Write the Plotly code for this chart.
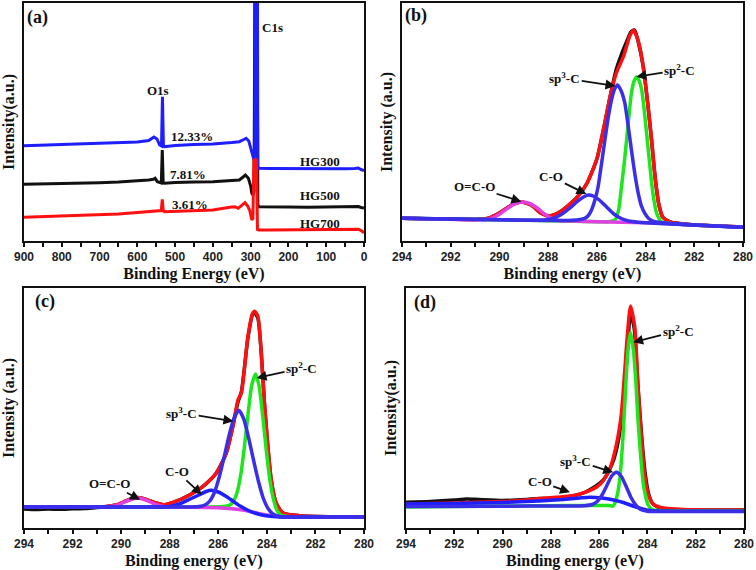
import plotly.graph_objects as go

# ---------------- Panel (a): survey spectra ----------------
a_hg300_x = [900, 850, 800, 750, 700, 650, 600, 570, 556, 548, 541, 536, 533.5, 531, 528.5, 524, 500, 450, 400, 350, 330, 318, 312, 305, 299, 294, 291, 289, 287.5, 283, 281, 278, 250, 200, 150, 100, 50, 25, 15, 8, 0]
a_hg300_y = [95.3, 95.8, 96.3, 97, 97.5, 98, 99, 100.5, 104, 102, 96, 95, 144.3, 96, 94.3, 94.5, 95.5, 96.5, 97, 98.5, 99.3, 101.5, 102.7, 100, 93, 85, 81, 95, 400, 400, 74, 72.7, 72.5, 72.3, 72.3, 72.5, 72.3, 72.5, 73, 71.5, 70.5]

a_hg500_x = [900, 850, 800, 750, 700, 650, 600, 570, 558, 553, 547, 540, 536.5, 534, 531.5, 528, 500, 450, 400, 350, 330, 320, 314, 306, 300, 297, 294, 291, 288.5, 283.5, 281, 278, 250, 200, 150, 100, 50, 25, 15, 8, 0]
a_hg500_y = [56.7, 57, 57.5, 57.8, 58.3, 59, 60, 61, 61.7, 62.7, 59.3, 58, 58, 91, 58, 57.7, 58.5, 59, 59.3, 60.5, 61, 64, 66, 62.7, 55, 47.7, 46, 50, 300, 300, 36, 34.3, 34, 34, 33.8, 34, 33.8, 34, 34.5, 33.5, 33]

a_hg700_x = [900, 850, 800, 750, 700, 650, 600, 560, 547, 540, 536.5, 534, 531.5, 528, 500, 450, 400, 355, 342, 333, 322, 315, 308, 302, 297, 294, 291.5, 284.5, 282, 279, 250, 200, 150, 100, 50, 30, 15, 8, 0]
a_hg700_y = [23.7, 24.3, 25, 25.5, 26, 27, 28.5, 30, 30.3, 30.5, 30.5, 41.7, 30.5, 29.3, 29.8, 30.5, 31, 33.7, 34.3, 32.7, 36, 38.3, 35, 30, 21, 22.7, 81, 81, 11.5, 11, 11, 11, 11, 11, 11, 11, 11.7, 10.5, 8.3]

# ---------------- Panel (b) ----------------
b_data_x = [294, 292, 291, 290.5, 290.0, 289.5, 289.1, 288.7, 288.3, 288.0, 287.6, 287.2, 286.8, 286.4, 286.0, 285.7, 285.45, 285.2, 285.0, 284.8, 284.6, 284.45, 284.3, 284.1, 283.9, 283.75, 283.6, 283.45, 283.3, 283.0, 282, 281, 280]
b_data_y = [22.7, 21.8, 21.5, 22.5, 28, 36, 39, 36, 28, 25, 28, 35, 44, 58, 82, 115, 145, 172, 186, 198, 209, 211, 199, 175, 135, 100, 62, 36, 24, 19, 16, 15, 14]

b_env_x = [294, 292, 291, 290.5, 290.0, 289.5, 289.1, 288.7, 288.3, 288.0, 287.6, 287.2, 286.8, 286.4, 286.0, 285.7, 285.45, 285.2, 284.9, 284.65, 284.5, 284.3, 284.1, 283.9, 283.75, 283.6, 283.45, 283.3, 283.0, 282, 281, 280]
b_env_y = [22.7, 21.8, 21.5, 22.5, 28, 36, 39, 36, 28, 25, 28, 35, 44, 58, 82, 115, 145, 168, 185, 205, 211, 200, 175, 135, 100, 62, 36, 24, 19, 16, 15, 14]

b_oco_x = [294, 292, 290.85, 290.55, 290.25, 289.95, 289.65, 289.35, 289.05, 288.75, 288.45, 288.15, 287.85, 287.55, 287.0, 286, 284, 282, 280]
b_oco_y = [22.7, 21.8, 21.2, 21.5, 23.5, 27.5, 33, 37.5, 39, 37.5, 33, 27, 22.5, 20.5, 20, 19.3, 18.3, 16, 13.7]

b_co_x = [294, 290, 288.5, 288.0, 287.7, 287.4, 287.1, 286.8, 286.55, 286.36, 286.15, 285.9, 285.6, 285.3, 285.0, 284.7, 284.3, 284, 282, 280]
b_co_y = [22.7, 21.3, 20.8, 21.5, 23.5, 27.5, 33, 39.5, 44, 46, 45, 41, 34, 27, 22.5, 20, 18.8, 18.3, 16, 13.7]

b_sp3_x = [294, 290, 287, 286.5, 286.35, 286.22, 286.08, 285.95, 285.81, 285.67, 285.53, 285.4, 285.27, 285.15, 285.0, 284.85, 284.72, 284.58, 284.44, 284.3, 284.17, 284.03, 283.85, 283.62, 282, 280]
b_sp3_y = [22.7, 21.3, 20.8, 22.7, 25.5, 31, 41, 54, 77, 101, 124, 141, 152, 156, 150, 137.7, 116, 91, 67, 47.7, 35, 27.7, 22, 19.3, 16, 13.7]

b_sp2_x = [294, 290, 286.5, 285.6, 285.35, 285.23, 285.1, 284.99, 284.88, 284.78, 284.68, 284.58, 284.47, 284.37, 284.26, 284.16, 284.06, 283.96, 283.85, 283.75, 283.65, 283.55, 283.34, 283, 282, 280]
b_sp2_y = [22.7, 21.3, 19.5, 19.2, 20, 22, 32, 54, 77, 101, 126, 148, 160, 164, 160, 151, 132, 108, 82, 58, 40, 28, 19, 17.5, 16, 13.7]

# ---------------- Panel (c) ----------------
c_data_x = [294, 293.5, 293, 292.5, 292, 291.5, 291, 290.6, 290.2, 289.9, 289.6, 289.37, 289.1, 288.8, 288.5, 288.27, 287.86, 287.18, 286.63, 286.08, 285.67, 285.4, 285.19, 285.05, 284.78, 284.58, 284.5, 284.37, 284.23, 284.1, 283.96, 283.82, 283.62, 283.34, 282.66, 281, 280]
c_data_y = [19, 18.5, 19, 18.7, 19.2, 19.5, 20.5, 21.5, 23, 26, 29, 30.5, 29.5, 27, 24.5, 23.3, 25.7, 33, 41.7, 55, 75, 101.7, 126, 136, 190, 214, 215, 210, 175, 125, 81.7, 48, 25, 15, 12.3, 11.2, 11]

c_env_x = [294, 292, 290.6, 290.2, 289.9, 289.6, 289.37, 289.1, 288.8, 288.5, 288.27, 287.86, 287.18, 286.63, 286.08, 285.67, 285.4, 285.19, 285.05, 284.78, 284.58, 284.5, 284.37, 284.23, 284.1, 283.96, 283.82, 283.62, 283.34, 282.66, 281, 280]
c_env_y = [21, 21, 21.5, 23, 26, 29, 30.5, 29.5, 27, 24.5, 23.3, 25.7, 33, 41.7, 55, 75, 101.7, 128, 135, 191.7, 215, 216.7, 211.7, 175, 125, 81.7, 48, 25, 15, 12.3, 11.2, 11]

c_oco_x = [294, 290.6, 290.2, 289.9, 289.6, 289.37, 289.1, 288.8, 288.5, 288.2, 287.5, 286, 285, 284.5, 284, 283.5, 282, 280]
c_oco_y = [21, 21, 22.5, 25.5, 28.5, 30, 29, 26, 23, 21.3, 20.8, 20.3, 18, 15.5, 13, 11.5, 11, 11]

c_co_x = [294, 288.5, 288, 287.6, 287.2, 286.8, 286.5, 286.29, 286, 285.7, 285.4, 285.1, 284.8, 284.5, 284.1, 283.6, 282, 280]
c_co_y = [21, 21, 21.5, 24, 28.5, 33, 36.5, 37.7, 36, 32, 27, 22, 18, 15, 12.5, 11.2, 11, 11]

c_sp3_x = [294, 288, 287.2, 286.8, 286.55, 286.35, 286.15, 285.95, 285.75, 285.55, 285.35, 285.15, 284.95, 284.75, 284.55, 284.35, 284.15, 283.95, 283.75, 283.5, 282, 280]
c_sp3_y = [21, 21, 21, 21.5, 23, 27, 36, 52, 72, 93, 110, 117.7, 109, 90, 68, 47, 30, 19.5, 14, 11.5, 11, 11]

c_sp2_x = [294, 288, 286.5, 285.8, 285.52, 285.37, 285.22, 285.07, 284.92, 284.77, 284.62, 284.47, 284.32, 284.17, 284.02, 283.87, 283.72, 283.57, 283.42, 283.0, 282, 280]
c_sp2_y = [21, 21, 21, 21.5, 23, 27, 36, 54, 82, 115, 143, 154, 142, 112, 77, 47, 28, 17, 13, 11.3, 11, 11]

# ---------------- Panel (d) ----------------
d_data_x = [294, 293, 292, 291.5, 291, 290, 289, 288.5, 288, 287.5, 287, 286.6, 286.3, 286.0, 285.8, 285.6, 285.4, 285.2, 285.0, 284.85, 284.7, 284.55, 284.4, 284.25, 284.1, 283.95, 283.8, 283.5, 283, 282, 281, 280]
d_data_y = [25.7, 26.5, 28, 29, 28.5, 27.5, 28.5, 29.5, 29.5, 30.5, 32.5, 35.5, 39.5, 44.5, 49, 57, 68, 88, 125, 170, 215, 200, 145, 95, 56, 34, 25, 20, 18.5, 18, 18, 18]

d_env_x = [294, 292, 290, 289, 288.2, 287.5, 286.9, 286.4, 286.1, 285.83, 285.56, 285.28, 285.08, 284.94, 284.84, 284.7, 284.52, 284.39, 284.25, 284.12, 283.97, 283.77, 283.35, 282.5, 281, 280]
d_env_y = [24, 25, 26.5, 28, 30, 31.3, 33.3, 37.3, 41, 47.3, 59, 84, 114, 157, 190, 222, 200, 141, 91, 54, 34, 24, 20, 18.5, 18, 18]

d_co_x = [294, 292, 290, 288.5, 287.5, 286.8, 286.4, 285.9, 285.4, 285.0, 284.6, 284.2, 283.9, 283.5, 282, 280]
d_co_y = [24, 24.5, 25.5, 27, 28.5, 30, 30.7, 30, 28, 25.5, 22, 19, 17.5, 17, 16.8, 16.8]

d_sp3_x = [294, 290, 287.5, 286.6, 286.28, 286.08, 285.88, 285.68, 285.48, 285.28, 285.08, 284.88, 284.68, 284.48, 284.28, 284.0, 283, 280]
d_sp3_y = [21.5, 21.8, 22, 22.3, 23.5, 26.5, 33, 42.5, 52, 55.7, 51.5, 41.5, 30.5, 22.8, 18.5, 16.8, 16.5, 16.5]

d_sp2_x = [294, 290, 287, 286, 285.6, 285.42, 285.28, 285.14, 285.01, 284.87, 284.78, 284.70, 284.57, 284.48, 284.39, 284.28, 284.18, 284.07, 283.97, 283.8, 283.5, 282, 280]
d_sp2_y = [21, 22, 22.5, 22.5, 22.5, 22, 30, 50, 92, 155, 184, 195.7, 175, 146, 108, 72, 46, 31, 23, 18.5, 17.5, 17, 17]

# ---------------- Styling ----------------
RED = "#ff1010"
BLUE = "#1e1eff"
BLUE2 = "#3a2ee8"
GREEN = "#1ee61e"
MAG = "#e040e0"
BLACK = "#111111"
SERIF = "Liberation Serif"
SANS = "Liberation Sans"
W = 756
H = 570

fig = go.Figure()


def line(x, y, color, width, ax, spline=True):
    fig.add_trace(go.Scatter(
        x=x, y=y, mode="lines", xaxis="x" + ax, yaxis="y" + ax,
        line=dict(color=color, width=width,
                  shape="spline" if spline else "linear",
                  smoothing=0.6 if spline else None),
        showlegend=False, hoverinfo="skip"))


# panel a
line(a_hg500_x, a_hg500_y, BLACK, 3, "", spline=False)
line(a_hg300_x, a_hg300_y, BLUE, 3, "", spline=False)
line(a_hg700_x, a_hg700_y, RED, 3, "", spline=False)

# panel b
LW = 3.5
line(b_data_x, b_data_y, BLACK, LW, "2")
line(b_env_x, b_env_y, RED, LW, "2")
line(b_sp2_x, b_sp2_y, GREEN, LW, "2")
line(b_oco_x, b_oco_y, MAG, LW, "2")
line(b_co_x, b_co_y, BLUE2, LW, "2")
line(b_sp3_x, b_sp3_y, BLUE2, LW, "2")

# panel c
line(c_data_x, c_data_y, BLACK, LW, "3")
line(c_env_x, c_env_y, RED, LW, "3")
line(c_sp2_x, c_sp2_y, GREEN, LW, "3")
line(c_oco_x, c_oco_y, MAG, LW, "3")
line(c_co_x, c_co_y, BLUE, LW, "3")
line(c_sp3_x, c_sp3_y, BLUE2, LW, "3")

# panel d
line(d_data_x, d_data_y, BLACK, LW, "4")
line(d_env_x, d_env_y, RED, LW, "4")
line(d_sp2_x, d_sp2_y, GREEN, LW, "4")
line(d_co_x, d_co_y, BLUE, LW, "4")
line(d_sp3_x, d_sp3_y, BLUE2, LW, "4")


def px_dom(a, b, total):
    return [a / total, b / total]


def ydom(top, bottom):
    return [(H - bottom) / H, (H - top) / H]


def xaxis(domain, rng, dtick, minor, title):
    return dict(
        domain=domain, range=rng, dtick=dtick, tick0=0, automargin=False,
        showline=True, mirror=True, linecolor="#111", linewidth=2,
        ticks="outside", ticklen=4, tickwidth=1.5, tickcolor="#111",
        minor=dict(dtick=minor, ticks="outside", ticklen=4, tickwidth=1.5, tickcolor="#111"),
        showgrid=False, zeroline=False,
        tickfont=dict(family=SANS, size=12, color="#222", weight="bold"),
        title=dict(text=title, standoff=4,
                   font=dict(family=SERIF, size=16, color="#111", weight="bold")),
    )


def yaxis(domain, rng, title, anchor):
    return dict(
        domain=domain, range=rng, anchor=anchor, automargin=False,
        showline=True, mirror=True, linecolor="#111", linewidth=2,
        ticks="", showticklabels=False, showgrid=False, zeroline=False,
        title=dict(text=title, standoff=3,
                   font=dict(family=SERIF, size=16, color="#111", weight="bold")),
    )


top = ydom(3, 241)
bot = ydom(288, 528)

fig.update_layout(
    width=W, height=H, margin=dict(l=0, r=0, t=0, b=0, autoexpand=False),
    paper_bgcolor="white", plot_bgcolor="white",
    xaxis=dict(xaxis(px_dom(24, 364, W), [900, 0], 100, 50, "Binding Energy (eV)"), anchor="y"),
    yaxis=yaxis(top, [0, 238], "Intensity(a.u.)", "x"),
    xaxis2=dict(xaxis(px_dom(402, 743, W), [294, 280], 2, 1, "Binding energy (eV)"), anchor="y2"),
    yaxis2=yaxis(top, [0, 238], "Intensity (a.u.)", "x2"),
    xaxis3=dict(xaxis(px_dom(24, 364, W), [294, 280], 2, 1, "Binding energy (eV)"), anchor="y3"),
    yaxis3=yaxis(bot, [0, 240], "Intensity (a.u.)", "x3"),
    xaxis4=dict(xaxis(px_dom(406, 744, W), [294, 280], 2, 1, "Binding energy (eV)"), anchor="y4"),
    yaxis4=yaxis(bot, [0, 240], "Intensity(a.u.)", "x4"),
)

ann = []


def txt(ax, x, y, s, size=13):
    ann.append(dict(xref="x" + ax, yref="y" + ax, x=x, y=y, text="<b>" + s + "</b>",
                    showarrow=False, xanchor="center", yanchor="middle",
                    font=dict(family=SERIF, size=size, color="#111")))


def label_arrow(ax, tx, ty, s, hx, hy):
    # text centred at (tx, ty) with an arrow pointing at (hx, hy)
    ann.append(dict(xref="x" + ax, yref="y" + ax, axref="x" + ax, ayref="y" + ax,
                    x=hx, y=hy, ax=tx, ay=ty, text="<b>" + s + "</b>", showarrow=True,
                    arrowhead=2, arrowsize=1.1, arrowwidth=1.8, arrowcolor="#111",
                    standoff=0, startstandoff=0,
                    font=dict(family=SERIF, size=13, color="#111")))


# panel a labels
txt("", 863, 224, "(a)", 18)
txt("", 241, 214, "C1s")
txt("", 545, 151, "O1s")
txt("", 456, 105, "12.33%")
txt("", 465, 66.7, "7.81%")
txt("", 460, 37, "3.61%")
txt("", 117, 80, "HG300")
txt("", 117, 46, "HG500")
txt("", 117, 18, "HG700")

# panel b labels
txt("2", 293.43, 226, "(b)", 18)
label_arrow("2", 282.6, 171, "sp<sup>2</sup>-C", 284.38, 164.3)
label_arrow("2", 287.32, 162.7, "sp<sup>3</sup>-C", 285.24, 155)
label_arrow("2", 287.87, 64.3, "C-O", 286.43, 47)
label_arrow("2", 291.02, 54.3, "O=C-O", 289.10, 39.3)

# panel c labels
txt("3", 293.14, 226.7, "(c)", 18)
label_arrow("3", 282.57, 160, "sp<sup>2</sup>-C", 284.42, 150)
label_arrow("3", 287.51, 115, "sp<sup>3</sup>-C", 285.38, 106.7)
label_arrow("3", 287.71, 56.7, "C-O", 286.68, 33.3)
label_arrow("3", 290.46, 44.3, "O=C-O", 289.22, 28.3)

# panel d labels
txt("4", 293.21, 225.7, "(d)", 18)
label_arrow("4", 282.73, 197.3, "sp<sup>2</sup>-C", 284.59, 185.7)
label_arrow("4", 286.97, 67.3, "sp<sup>3</sup>-C", 285.42, 55.7)
label_arrow("4", 288.46, 46.3, "C-O", 287.21, 35.7)

fig.update_layout(annotations=ann)
fig.write_html("out.html",
               config={"displayModeBar": False},
               post_script="document.body.style.margin='0';document.body.style.overflow='hidden';")
